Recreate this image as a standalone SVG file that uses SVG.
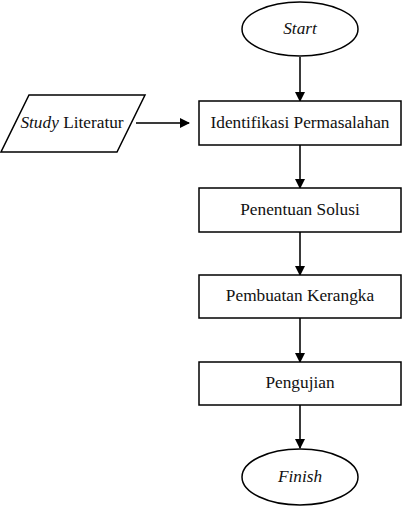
<svg xmlns="http://www.w3.org/2000/svg" width="402" height="507" viewBox="0 0 402 507">
<style>
.s{fill:#fff;stroke:#000;stroke-width:1.5}
.t{font-family:'Liberation Serif','Times New Roman',serif;font-size:17.3px;fill:#111;text-anchor:middle}
.i{font-style:italic}
.c{stroke:#3a3a3a;stroke-width:2;fill:none}
</style>
<defs>
<marker id="a" markerWidth="10" markerHeight="10" refX="9" refY="5" orient="auto" markerUnits="userSpaceOnUse">
<path d="M0,0 L10,5 L0,10 Z" fill="#000"/>
</marker>
</defs>
<rect width="402" height="507" fill="#fff"/>
<g id="connectors">
<line class="c" x1="300" y1="57" x2="300" y2="101" marker-end="url(#a)"/>
<line class="c" x1="136" y1="123" x2="189" y2="123" marker-end="url(#a)"/>
<line class="c" x1="300" y1="145" x2="300" y2="188" marker-end="url(#a)"/>
<line class="c" x1="300" y1="232" x2="300" y2="275" marker-end="url(#a)"/>
<line class="c" x1="300" y1="318" x2="300" y2="362" marker-end="url(#a)"/>
<line class="c" x1="300" y1="405" x2="300" y2="448" marker-end="url(#a)"/>
</g>
<g id="start">
<ellipse class="s" cx="300" cy="29" rx="58" ry="27"/>
<text class="t i" x="300" y="34">Start</text>
</g>
<g id="study">
<polygon class="s" points="29,95 145,95 117,152 1,152"/>
<text class="t" x="72" y="128"><tspan class="i">Study</tspan> Literatur</text>
</g>
<g id="identifikasi">
<rect class="s" x="199" y="101" width="202" height="44"/>
<text class="t" x="300" y="128">Identifikasi Permasalahan</text>
</g>
<g id="penentuan">
<rect class="s" x="199" y="188" width="202" height="44"/>
<text class="t" x="300" y="215">Penentuan Solusi</text>
</g>
<g id="pembuatan">
<rect class="s" x="199" y="275" width="202" height="43"/>
<text class="t" x="300" y="301">Pembuatan Kerangka</text>
</g>
<g id="pengujian">
<rect class="s" x="199" y="362" width="202" height="43"/>
<text class="t" x="300" y="388">Pengujian</text>
</g>
<g id="finish">
<ellipse class="s" cx="300" cy="477" rx="58" ry="28"/>
<text class="t i" x="300" y="482">Finish</text>
</g>
</svg>
